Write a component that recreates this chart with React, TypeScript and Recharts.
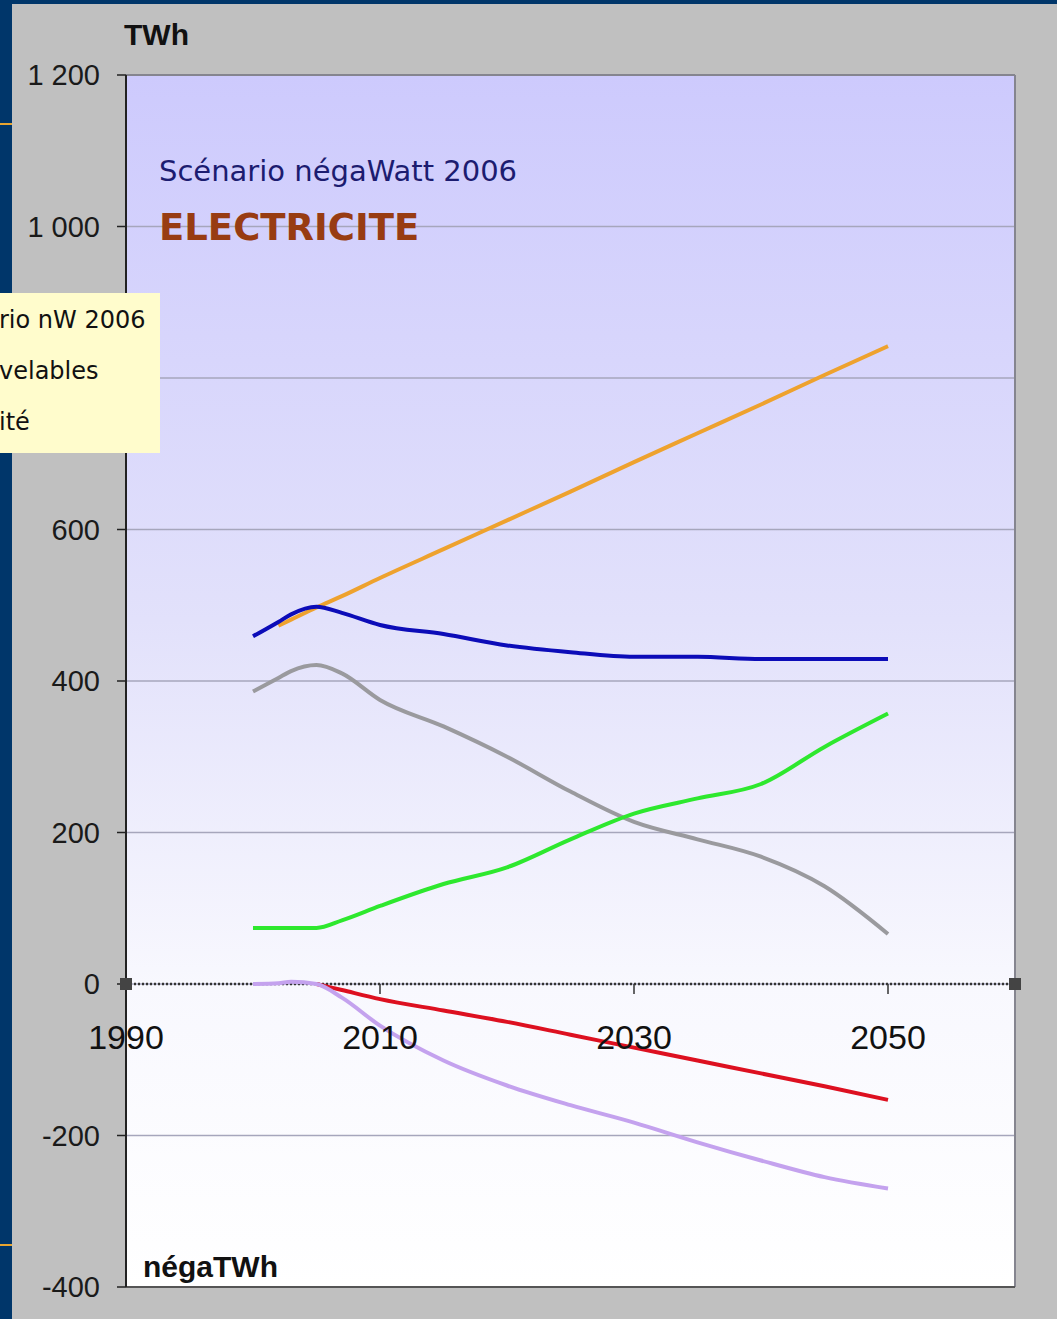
import React from "react";
import {
  LineChart,
  Line,
  XAxis,
  YAxis,
  CartesianGrid,
  ReferenceLine,
  ReferenceDot,
} from "recharts";

// years
const years = [2000, 2002, 2003, 2005, 2007, 2010, 2015, 2020, 2025, 2030, 2035, 2040, 2045, 2050];

const scenarioNW = [null, 473, 481, 497, 512, 536, 574, 612, 650, 689, 727, 765, 804, 842];
const consommation = [459, 478, 488, 498, 490, 474, 462, 447, 438, 432, 432, 429, 429, 429];
const nonRenouvelables = [386, 404, 413, 421, 410, 375, 340, 300, 254, 214, 191, 168, 129, 66];
const renouvelables = [74, 74, 74, 74, 84, 103, 132, 154, 191, 225, 245, 264, 313, 357];
const negaSobriete = [null, null, null, 0, -8, -20, -35, -50, -67, -84, -101, -118, -135, -153];
const negaEfficacite = [0, 1, 3, 0, -18, -55, -101, -134, -160, -183, -209, -233, -255, -270];

const yTicks = [-400, -200, 0, 200, 400, 600, 800, 1000, 1200];
const xTicks = [1990, 2010, 2030, 2050];
// 800 is hidden behind the yellow note in the original
const hiddenY = 800;

const legendLines = ["rio nW 2006", "velables", "ité"];

const data = years.map((year, i) => ({
  year,
  orange: scenarioNW[i],
  blue: consommation[i],
  gray: nonRenouvelables[i],
  green: renouvelables[i],
  red: negaSobriete[i],
  purple: negaEfficacite[i],
}));

const fmt = (v: number) =>
  v === hiddenY ? "" : String(v).replace(/\B(?=(\d{3})+(?!\d))/g, " ");

// year label hanging under the zero line
const YearMark = (props: any) => {
  const { cx, cy, year } = props;
  return (
    <g>
      {year !== 1990 && (
        <line x1={cx} x2={cx} y1={cy} y2={cy + 10} stroke="#333" strokeWidth={1.5} />
      )}
      <text
        x={cx}
        y={cy + 65}
        textAnchor="middle"
        fontFamily="Liberation Sans, Arial, sans-serif"
        fontSize={34}
        fill="#111"
      >
        {year}
      </text>
    </g>
  );
};

const Handle = (props: any) => (
  <rect x={props.cx - 6} y={props.cy - 6} width={12} height={12} fill="#444" />
);

export default function App() {
  return (
    <div
      style={{
        position: "absolute",
        left: 0,
        top: 0,
        width: 1057,
        height: 1319,
        background: "#c0c0c0",
        overflow: "hidden",
      }}
    >
      <div style={{ position: "absolute", left: 0, top: 0, width: 1057, height: 4, background: "#00366a" }} />
      <div style={{ position: "absolute", left: 0, top: 0, width: 12, height: 1319, background: "#00366a" }} />
      <div style={{ position: "absolute", left: 0, top: 123, width: 12, height: 2, background: "#e8a530" }} />
      <div style={{ position: "absolute", left: 0, top: 1244, width: 12, height: 2, background: "#e8a530" }} />

      <LineChart
        width={1057}
        height={1319}
        data={data}
        margin={{ top: 75, right: 42, bottom: 32, left: 16 }}
        style={{ position: "absolute", left: 0, top: 0 }}
      >
        <defs>
          <linearGradient id="plotBg" x1="0" y1="0" x2="0" y2="1">
            <stop offset="0" stopColor="#cdcafd" />
            <stop offset="0.45" stopColor="#e2e1fb" />
            <stop offset="0.75" stopColor="#f8f8fe" />
            <stop offset="1" stopColor="#ffffff" />
          </linearGradient>
        </defs>
        <CartesianGrid vertical={false} fill="url(#plotBg)" stroke="#a6a6bc" strokeWidth={1.5} />
        <XAxis dataKey="year" type="number" domain={[1990, 2060]} ticks={xTicks} hide />
        <YAxis
          width={110}
          type="number"
          domain={[-400, 1200]}
          ticks={yTicks}
          interval={0}
          tickFormatter={fmt}
          tickSize={9}
          tickMargin={17}
          axisLine={{ stroke: "#222", strokeWidth: 2 }}
          tickLine={{ stroke: "#222", strokeWidth: 1.5 }}
          tick={{ fill: "#1a1a1a", fontSize: 29, fontFamily: "Liberation Sans, Arial, sans-serif" }}
        />
        <ReferenceLine y={1200} stroke="#85858f" strokeWidth={2} />
        <ReferenceLine x={2060} stroke="#85858f" strokeWidth={2} />
        <ReferenceLine y={-400} stroke="#555" strokeWidth={2} />
        <ReferenceLine y={0} stroke="#333" strokeWidth={2.5} strokeDasharray="2 2" />
        {xTicks.map((yr) => (
          <ReferenceDot key={yr} x={yr} y={0} r={1} shape={(p: any) => <YearMark {...p} year={yr} />} />
        ))}
        <ReferenceDot x={1990} y={0} r={6} shape={<Handle />} />
        <ReferenceDot x={2060} y={0} r={6} shape={<Handle />} />
        <Line dataKey="orange" stroke="#eea22e" strokeWidth={4} dot={false} type="monotone" isAnimationActive={false} />
        <Line dataKey="blue" stroke="#0c0cb8" strokeWidth={4} dot={false} type="monotone" isAnimationActive={false} />
        <Line dataKey="gray" stroke="#9a9a9e" strokeWidth={4} dot={false} type="monotone" isAnimationActive={false} />
        <Line dataKey="green" stroke="#2ee82e" strokeWidth={4} dot={false} type="monotone" isAnimationActive={false} />
        <Line dataKey="red" stroke="#dd1020" strokeWidth={4} dot={false} type="monotone" isAnimationActive={false} />
        <Line dataKey="purple" stroke="#c4a2ee" strokeWidth={4} dot={false} type="monotone" isAnimationActive={false} />
      </LineChart>

      <svg
        width={1057}
        height={1319}
        style={{ position: "absolute", left: 0, top: 0, pointerEvents: "none" }}
      >
        <text x={124} y={45} fontFamily="Liberation Sans, Arial, sans-serif" fontWeight="bold" fontSize={30} fill="#111">
          TWh
        </text>
        <text x={143} y={1277} fontFamily="Liberation Sans, Arial, sans-serif" fontWeight="bold" fontSize={30} fill="#111">
          négaTWh
        </text>
        <text x={159} y={181} fontFamily="DejaVu Sans, sans-serif" fontSize={29} fill="#1c1c70">
          Scénario négaWatt 2006
        </text>
        <text x={159} y={240} fontFamily="DejaVu Sans, sans-serif" fontWeight="bold" fontSize={37} fill="#983c12">
          ELECTRICITE
        </text>
        <rect x={0} y={293} width={160} height={160} fill="#fffccc" />
        {legendLines.map((t, i) => (
          <text key={t} x={-1} y={328 + i * 51} fontFamily="DejaVu Sans, sans-serif" fontSize={24} fill="#111">
            {t}
          </text>
        ))}
      </svg>
    </div>
  );
}
